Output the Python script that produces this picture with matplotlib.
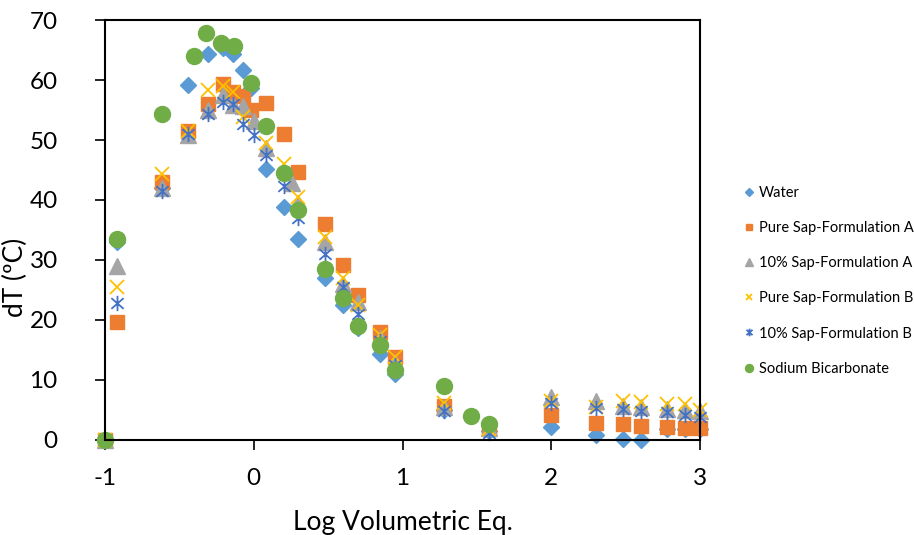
import matplotlib.pyplot as plt
import numpy as np
from matplotlib.path import Path

plt.rcParams['font.family'] = ['Lato', 'DejaVu Sans']
plt.rcParams['axes.unicode_minus'] = False

# Water
x_water = [-1, -0.92, -0.62, -0.44, -0.31, -0.21, -0.14, -0.07, -0.02, 0.08, 0.20, 0.30,
           0.48, 0.60, 0.70, 0.85, 0.95, 1.28, 1.58, 2.00, 2.30, 2.48, 2.60, 2.78, 2.90, 3.00]
y_water = [0, 33.0, 42.0, 59.2, 64.3, 65.4, 64.3, 61.6, 58.6, 45.2, 38.8, 33.5,
           27.0, 22.5, 18.6, 14.4, 11.0, 5.0, 1.5, 2.1, 0.8, 0.2, 0.0, 1.8, 1.8, 1.8]

# Pure Sap-Formulation A
x_psa = [-1, -0.92, -0.62, -0.44, -0.31, -0.21, -0.14, -0.07, -0.02, 0.08, 0.20, 0.30,
         0.48, 0.60, 0.70, 0.85, 0.95, 1.28, 1.58, 2.00, 2.30, 2.48, 2.60, 2.78, 2.90, 3.00]
y_psa = [0, 19.6, 43.0, 51.5, 56.0, 59.3, 58.0, 57.3, 55.0, 56.2, 51.0, 44.7,
         36.0, 29.2, 24.2, 18.0, 13.8, 5.6, 2.0, 4.2, 2.9, 2.6, 2.4, 2.2, 2.0, 2.0]

# 10% Sap-Formulation A
x_tsa = [-1, -0.92, -0.62, -0.44, -0.31, -0.21, -0.14, -0.07, 0.00, 0.08, 0.26, 0.30,
         0.48, 0.60, 0.70, 0.85, 0.95, 1.28, 1.58, 2.00, 2.30, 2.48, 2.60, 2.78, 2.90, 3.00]
y_tsa = [0, 29.0, 42.0, 50.8, 55.0, 57.5, 55.8, 55.7, 53.2, 48.6, 42.8, 39.5,
         33.0, 26.0, 23.0, 17.0, 13.0, 5.5, 2.0, 7.2, 6.5, 5.7, 5.5, 5.2, 5.0, 4.8]

# Pure Sap-Formulation B
x_psb = [-1, -0.92, -0.62, -0.44, -0.31, -0.21, -0.14, -0.07, 0.08, 0.20, 0.30,
         0.48, 0.60, 0.70, 0.85, 0.95, 1.28, 1.58, 2.00, 2.30, 2.48, 2.60, 2.78, 2.90, 3.00]
y_psb = [0, 25.5, 44.3, 51.5, 58.3, 59.0, 58.0, 53.8, 49.5, 46.0, 40.5,
         33.8, 27.0, 22.5, 17.5, 13.8, 6.2, 1.8, 6.5, 5.5, 6.5, 6.3, 6.0, 6.0, 5.0]

# 10% Sap-Formulation B
x_tsb = [-1, -0.92, -0.62, -0.44, -0.31, -0.21, -0.14, -0.07, 0.00, 0.08, 0.20, 0.30,
         0.48, 0.60, 0.70, 0.85, 0.95, 1.28, 1.58, 2.00, 2.30, 2.48, 2.60, 2.78, 2.90, 3.00]
y_tsb = [0, 22.8, 41.5, 51.0, 54.3, 56.3, 56.0, 52.7, 50.8, 47.5, 42.3, 37.0,
         31.0, 25.5, 21.0, 16.5, 12.5, 4.8, 1.2, 6.2, 5.3, 5.2, 4.9, 4.7, 4.2, 3.8]

# Sodium Bicarbonate
x_sb = [-1, -0.92, -0.62, -0.40, -0.32, -0.22, -0.13, -0.02, 0.08, 0.20, 0.30,
        0.48, 0.60, 0.70, 0.85, 0.95, 1.28, 1.46, 1.58]
y_sb = [0, 33.5, 54.3, 64.0, 67.9, 66.1, 65.6, 59.5, 52.3, 44.5, 38.3,
        28.5, 23.7, 19.0, 15.8, 11.7, 9.0, 4.0, 2.6]

# excel style star: vertical bar plus an X
star = Path([(0, -1), (0, 1), (-0.8, -0.7), (0.8, 0.7), (-0.8, 0.7), (0.8, -0.7)],
            [Path.MOVETO, Path.LINETO, Path.MOVETO, Path.LINETO, Path.MOVETO, Path.LINETO])

fig = plt.figure(figsize=(9.14, 5.35), dpi=100)
ax = fig.add_axes([0.1149, 0.1776, 0.651, 0.785])

ax.plot(x_water, y_water, 'D', ls='none', color='#5B9BD5', ms=8.5, clip_on=False, label='Water')
ax.plot(x_psa, y_psa, 's', ls='none', color='#ED7D31', ms=10, clip_on=False,
        label='Pure Sap-Formulation A')
ax.plot(x_tsa, y_tsa, '^', ls='none', color='#A5A5A5', ms=11, clip_on=False,
        label='10% Sap-Formulation A')
ax.plot(x_psb, y_psb, 'x', ls='none', color='#FFC000', ms=10, mew=1.3, clip_on=False,
        label='Pure Sap-Formulation B')
ax.plot(x_tsb, y_tsb, marker=star, ls='none', color='#4472C4', mfc='none', ms=11, mew=1.3,
        clip_on=False, label='10% Sap-Formulation B')
ax.plot(x_sb, y_sb, 'o', ls='none', color='#70AD47', ms=11.5, clip_on=False,
        label='Sodium Bicarbonate')

ax.set_xlim(-1, 3)
ax.set_ylim(0, 70)
ax.set_xticks([-1, 0, 1, 2, 3])
ax.set_yticks(np.arange(0, 71, 10))
ax.tick_params(labelsize=17.5, direction='out', length=7, width=1.2)
ax.tick_params(axis='y', pad=27)
ax.tick_params(axis='x', pad=13)
for s in ax.spines.values():
    s.set_linewidth(1.5)

ax.set_xlabel('Log Volumetric Eq.', fontsize=19, labelpad=15)
ax.set_ylabel('dT (ºC)', fontsize=19)
ax.yaxis.set_label_coords(-0.13, 0.386)

fig.legend(loc='center left', bbox_to_anchor=(0.8, 0.475), frameon=False,
           fontsize=10.5, labelspacing=1.45, handlelength=0.7, handletextpad=0.3,
           markerscale=0.5)

fig.savefig('out.png', dpi=100)
